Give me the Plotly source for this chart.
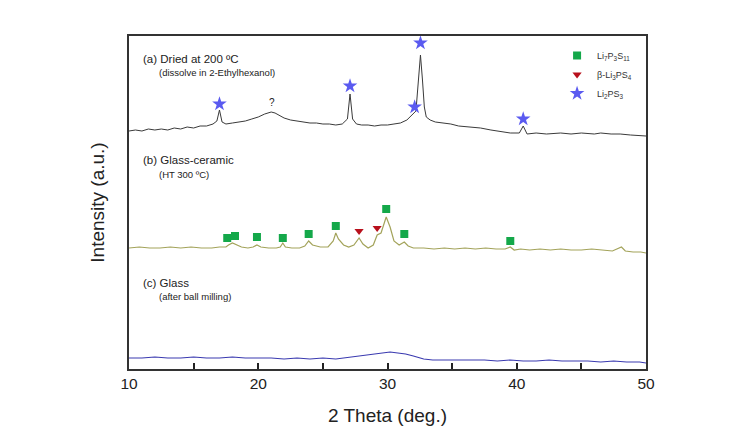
import plotly.graph_objects as go

# ---- data ----
theta_a = [10.0, 10.5, 11.0, 11.5, 12.0, 12.5, 13.0, 13.5, 14.0, 14.5, 15.0, 15.5, 16.0, 16.5, 16.8, 17.0, 17.2,
           17.5, 18.0, 18.5, 19.0, 19.5, 20.0, 20.5, 21.0, 21.3, 21.7, 22.0, 22.5, 23.0, 23.5, 24.0, 24.5, 25.0,
           25.5, 26.0, 26.5, 26.9, 27.1, 27.3, 27.6, 28.0, 28.5, 29.0, 29.5, 30.0, 30.5, 31.0, 31.5, 31.9, 32.2,
           32.4, 32.55, 32.7, 32.85, 33.0, 33.3, 33.7, 34.2, 34.9, 35.5, 36.2, 37.2, 38.0, 38.8, 39.5, 40.2, 40.5,
           40.8, 41.5, 42.3, 43.4, 44.2, 45.0, 46.0, 46.5, 47.3, 48.0, 48.8, 49.6, 50.0]
int_a = [238, 239, 238, 240, 239, 240, 239, 241, 240, 242, 241, 243, 243, 245, 248, 259, 247,
         245, 246, 247, 248, 250, 252, 255, 257, 256, 253, 251, 249, 248, 247, 246, 246, 245,
         245, 244, 245, 250, 275, 250, 245, 244, 244, 243, 244, 244, 245, 246, 249, 254, 258,
         290, 314, 290, 262, 252, 249, 247, 246, 245, 243, 242, 241, 239, 237, 236, 236, 243,
         235, 236, 235, 236, 235, 236, 235, 236, 235, 235, 234, 233, 233]

theta_b = [10.0, 10.8, 11.6, 12.4, 13.2, 14.0, 14.8, 15.6, 16.4, 17.0, 17.5, 17.7, 18.0, 18.3, 18.7, 19.2,
           19.6, 19.9, 20.2, 20.8, 21.4, 21.7, 21.9, 22.1, 22.6, 23.2, 23.6, 23.9, 24.2, 24.8, 25.4, 25.8,
           26.0, 26.2, 26.6, 27.0, 27.4, 27.8, 28.1, 28.5, 28.9, 29.2, 29.5, 29.9, 30.2, 30.5, 30.9, 31.3,
           31.6, 32.0, 32.8, 33.6, 34.4, 35.2, 36.0, 36.8, 37.6, 38.4, 39.1, 39.5, 39.8, 40.3, 41.0, 41.8,
           42.6, 43.4, 44.2, 45.0, 45.8, 46.6, 47.4, 48.1, 48.4, 49.0, 49.6, 50.0]
int_b = [121, 122, 121, 121, 122, 121, 122, 121, 121, 122, 122, 124, 126, 124, 122, 121,
         122, 124, 122, 121, 121, 122, 126, 122, 121, 121, 123, 128, 124, 122, 122, 128,
         136, 130, 124, 122, 124, 131, 125, 121, 124, 134, 136, 152, 142, 128, 124, 127,
         123, 121, 121, 120, 121, 120, 121, 120, 121, 120, 120, 122, 119, 120, 119, 120,
         119, 120, 119, 119, 120, 119, 118, 122, 118, 117, 117, 116]

theta_c = [10.0, 11.0, 12.0, 13.0, 14.0, 15.0, 16.0, 17.0, 18.0, 19.0, 20.0, 21.0, 22.0, 23.0, 24.0, 25.0,
           26.0, 26.6, 27.2, 27.8, 28.4, 29.0, 29.6, 30.2, 30.8, 31.4, 32.0, 32.8, 33.5, 34.5, 35.5, 36.5,
           37.5, 38.5, 39.5, 40.5, 41.5, 42.5, 43.5, 44.5, 45.5, 46.5, 47.5, 48.5, 49.5, 50.0]
int_c = [11, 11, 12, 11, 11, 12, 11, 11, 12, 11, 11, 11, 10, 11, 10, 11,
         10, 11, 12, 13, 14, 15, 16, 17, 16, 15, 13, 10, 9, 9, 9, 9,
         9, 8, 9, 8, 8, 9, 8, 8, 8, 7, 8, 7, 7, 6]

# peak markers
li7_x = [17.6, 18.2, 19.9, 21.9, 23.9, 26.0, 29.9, 31.3, 39.5]
li7_y = [131, 133, 132, 131, 135, 143, 160, 135, 128]
beta_x = [27.8, 29.2]
beta_y = [138, 141]
li2_x = [17.0, 27.1, 32.1, 32.55, 40.5]
li2_y = [265, 283, 262, 326, 250]

x_ticks = [10, 20, 30, 40, 50]

FONT = "Liberation Sans, Arial, sans-serif"

fig = go.Figure()
fig.add_trace(go.Scatter(x=theta_a, y=int_a, mode="lines", line=dict(color="#3a3a3a", width=1), showlegend=False))
fig.add_trace(go.Scatter(x=theta_b, y=int_b, mode="lines", line=dict(color="#a3a35a", width=1.2), showlegend=False))
fig.add_trace(go.Scatter(x=theta_c, y=int_c, mode="lines", line=dict(color="#3a3ab0", width=1.2), showlegend=False))

fig.add_trace(go.Scatter(x=li7_x, y=li7_y, mode="markers", name="Li<sub>7</sub>P<sub>3</sub>S<sub>11</sub>",
                         marker=dict(symbol="square", size=8, color="#14a84a")))
fig.add_trace(go.Scatter(x=beta_x, y=beta_y, mode="markers", name="β-Li<sub>3</sub>PS<sub>4</sub>",
                         marker=dict(symbol="triangle-down", size=8, color="#b8101c")))
fig.add_trace(go.Scatter(x=li2_x, y=li2_y, mode="markers", name="Li<sub>2</sub>PS<sub>3</sub>",
                         marker=dict(symbol="star", size=11, color="#5a5af0")))

ann = [
    dict(x=10.95, y=310, text="(a) Dried at 200 ºC", size=11.5),
    dict(x=12.2, y=297, text="(dissolve in 2-Ethylhexanol)", size=9.5),
    dict(x=10.95, y=209, text="(b) Glass-ceramic", size=11.5),
    dict(x=12.2, y=195, text="(HT 300 ºC)", size=9.5),
    dict(x=10.95, y=86, text="(c) Glass", size=11.5),
    dict(x=12.2, y=73, text="(after ball milling)", size=9.5),
]
for a in ann:
    fig.add_annotation(x=a["x"], y=a["y"], text=a["text"], showarrow=False, xanchor="left", yanchor="middle",
                       font=dict(family=FONT, size=a["size"], color="#222"))
fig.add_annotation(x=21.1, y=267, text="?", showarrow=False, font=dict(family=FONT, size=10, color="#222"))

fig.update_layout(
    width=731, height=434,
    margin=dict(l=121, r=93, t=28, b=73),
    paper_bgcolor="white", plot_bgcolor="white",
    font=dict(family=FONT, color="#222"),
    legend=dict(x=0.828, y=0.985, xanchor="left", yanchor="top", bgcolor="rgba(0,0,0,0)",
                font=dict(family=FONT, size=9, color="#333"), itemwidth=30, tracegroupgap=0),
    xaxis=dict(range=[10, 50], tickvals=x_ticks, ticktext=[str(t) for t in x_ticks],
               ticks="inside", ticklen=6, tickcolor="#222", tickwidth=1.5,
               minor=dict(dtick=5, ticks="inside", ticklen=6, tickcolor="#222", tickwidth=1.5),
               showline=True, linecolor="#333", linewidth=1.5, mirror=True, showgrid=False, zeroline=False,
               tickfont=dict(size=15.5, family=FONT, color="#222"),
               title=dict(text="2 Theta (deg.)", font=dict(size=19, family=FONT, color="#222"), standoff=17)),
    yaxis=dict(range=[0, 333], showticklabels=False, ticks="", showline=True, linecolor="#333", linewidth=1.5,
               mirror=True, showgrid=False, zeroline=False,
               title=dict(text="Intensity (a.u.)", font=dict(size=19, family=FONT, color="#222"), standoff=18)),
)

fig.write_html("out.html")
